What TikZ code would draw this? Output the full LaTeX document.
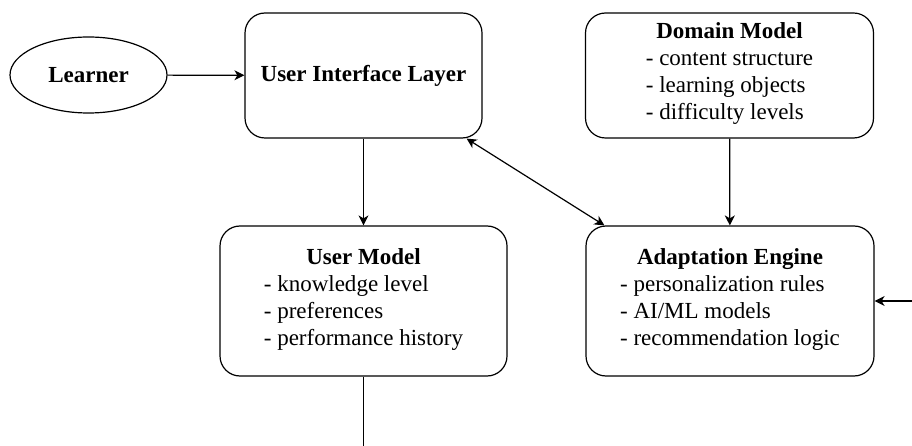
\documentclass[tikz,border=0pt]{standalone}
\usepackage{fontspec}
\setmainfont{LiberationSerif}[
  Extension=.ttf,
  UprightFont=*-Regular,
  BoldFont=*-Bold,
  ItalicFont=*-Italic,
  BoldItalicFont=*-BoldItalic]
\usetikzlibrary{arrows.meta,shapes.geometric}

% title line plus a left-aligned list under it
\newcommand{\boxtext}[2]{\textbf{#1}\\\begin{tabular}[t]{@{}l@{}}#2\end{tabular}}

\begin{document}
\begin{tikzpicture}[x=1pt,y=-1pt,
  every node/.style={font=\fontsize{23}{27}\selectfont},
  block/.style={draw,line width=1.2pt,rounded corners=20pt,align=center,inner sep=0pt},
  bigblock/.style={block,minimum width=288pt,minimum height=150pt},
  topblock/.style={block,minimum width=288pt,minimum height=125pt},
  link/.style={line width=1.2pt,-{Stealth[length=10pt,width=10pt,inset=3pt]}},
  twoway/.style={line width=1.2pt,{Stealth[length=10pt,width=10pt,inset=3pt]}-{Stealth[length=10pt,width=10pt,inset=3pt]}}]
\useasboundingbox (0,0) rectangle (912,446);

% actor
\node[draw,ellipse,line width=1.2pt,minimum width=157pt,minimum height=76pt,inner sep=0pt,font=\fontsize{23}{27}\selectfont\bfseries]
  (learner) at (88.5,75) {Learner};

% top row
\node[block,minimum width=237pt,minimum height=125pt,font=\fontsize{23}{27}\selectfont\bfseries]
  (ui) at (363.5,75.5) {User Interface Layer};
\node[topblock] (dm) at (729.5,75.5)
  {\boxtext{Domain Model}{- content structure\\- learning objects\\- difficulty levels}};

% bottom row
\node[bigblock,minimum width=287pt] (um) at (363.5,301)
  {\boxtext{User Model}{- knowledge level\\- preferences\\- performance history}};
\node[bigblock] (ae) at (730,301)
  {\boxtext{Adaptation Engine}{- personalization rules\\- AI/ML models\\- recommendation logic}};

% loose ends
\coordinate (ext) at (912,301);
\coordinate (down) at (363.5,446);

% connectors
\draw[link] (learner) -- (ui);
\draw[link] (ui) -- (um);
\draw[link] (dm) -- (ae);
\draw[twoway] ([xshift=-16pt]ui.south east) -- ([xshift=19pt]ae.north west);
\draw[link] (ext) -- (ae.east);
\draw[line width=1.2pt] (um.south) -- (down);
\end{tikzpicture}
\end{document}
